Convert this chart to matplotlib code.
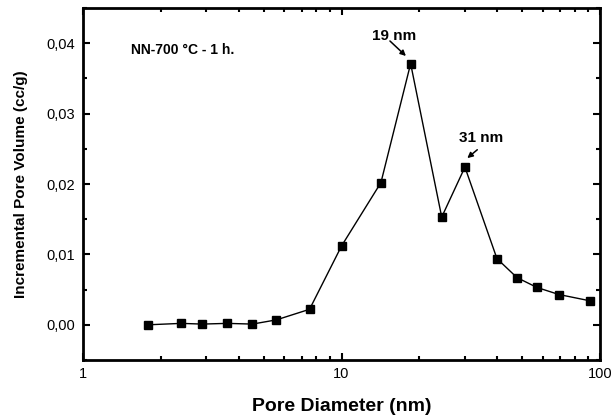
import matplotlib
matplotlib.use("Agg")
import matplotlib.pyplot as plt
from matplotlib.transforms import offset_copy
from matplotlib.ticker import FixedLocator, FixedFormatter, LogLocator, NullFormatter, MultipleLocator

plt.rcParams['font.family'] = ['Liberation Sans', 'DejaVu Sans']

# Data
pore_diameter = [1.79, 2.40, 2.89, 3.61, 4.52, 5.60, 7.52, 10.0, 14.2, 18.5, 24.4, 30.0, 39.9, 47.7, 57.0, 69.3, 91.5]
pore_volume = [0.0000, 0.0002, 0.0001, 0.0002, 0.0001, 0.0007, 0.0022, 0.0112, 0.0202, 0.0371,
               0.0153, 0.0224, 0.0094, 0.0067, 0.0053, 0.0043, 0.0034]
y_ticks = [0.00, 0.01, 0.02, 0.03, 0.04]
y_tick_labels = ['0,00', '0,01', '0,02', '0,03', '0,04']
x_ticks = [1, 10, 100]
x_tick_labels = ['1', '10', '100']
sample_label = 'NN-700 °C - 1 h.'
peak_labels = ['19 nm', '31 nm']
peak_index = [9, 11]

fig = plt.figure(figsize=(6.12, 4.18), dpi=100)
ax = fig.add_axes([0.1356, 0.1388, 0.845, 0.842])

ax.plot(pore_diameter, pore_volume, color='black', linewidth=1.0,
        marker='s', markersize=6, markerfacecolor='black', markeredgecolor='black')

ax.set_xscale('log')
ax.set_xlim(1, 100)
ax.set_ylim(-0.005, 0.045)

ax.xaxis.set_major_locator(FixedLocator(x_ticks))
ax.xaxis.set_major_formatter(FixedFormatter(x_tick_labels))
ax.xaxis.set_minor_locator(LogLocator(base=10, subs=range(2, 10)))
ax.xaxis.set_minor_formatter(NullFormatter())
ax.yaxis.set_major_locator(FixedLocator(y_ticks))
ax.yaxis.set_major_formatter(FixedFormatter(y_tick_labels))
ax.yaxis.set_minor_locator(MultipleLocator(0.005))

for s in ax.spines.values():
    s.set_linewidth(2.0)

ax.tick_params(which='both', direction='in', top=True, right=True, labelsize=10.5, width=1.5)
ax.tick_params(which='major', length=5)
ax.tick_params(which='minor', length=3)
ax.tick_params(axis='y', pad=6)
ax.tick_params(axis='x', pad=5)

ax.set_xlabel('Pore Diameter (nm)', fontsize=14, fontweight='bold', labelpad=12)
ax.set_ylabel('Incremental Pore Volume (cc/g)', fontsize=11, fontweight='bold', labelpad=13)

ax.text(0.093, 0.881, sample_label, transform=ax.transAxes, fontsize=10, fontweight='bold',
        ha='left', va='center')

# annotations (offsets in points relative to the peak markers)
label_off = [(-12, 20), (11.8, 21.3)]
tail_off = [(-14.9, 16.3), (8.9, 12.5)]
head_off = [(-3.4, 5.5), (1.7, 6.5)]
for lab, idx, lo, to, ho in zip(peak_labels, peak_index, label_off, tail_off, head_off):
    px, py = pore_diameter[idx], pore_volume[idx]
    ax.annotate(lab, xy=(px, py), xytext=lo, textcoords='offset points',
                fontsize=11, fontweight='bold', ha='center', va='center')
    ax.annotate('', xy=(px, py), xycoords=offset_copy(ax.transData, fig, x=ho[0], y=ho[1], units='points'),
                xytext=(px, py), textcoords=offset_copy(ax.transData, fig, x=to[0], y=to[1], units='points'),
                arrowprops=dict(arrowstyle='-|>', color='black', lw=1.1, mutation_scale=8,
                                shrinkA=0, shrinkB=0))

fig.savefig('out.png', dpi=100)
